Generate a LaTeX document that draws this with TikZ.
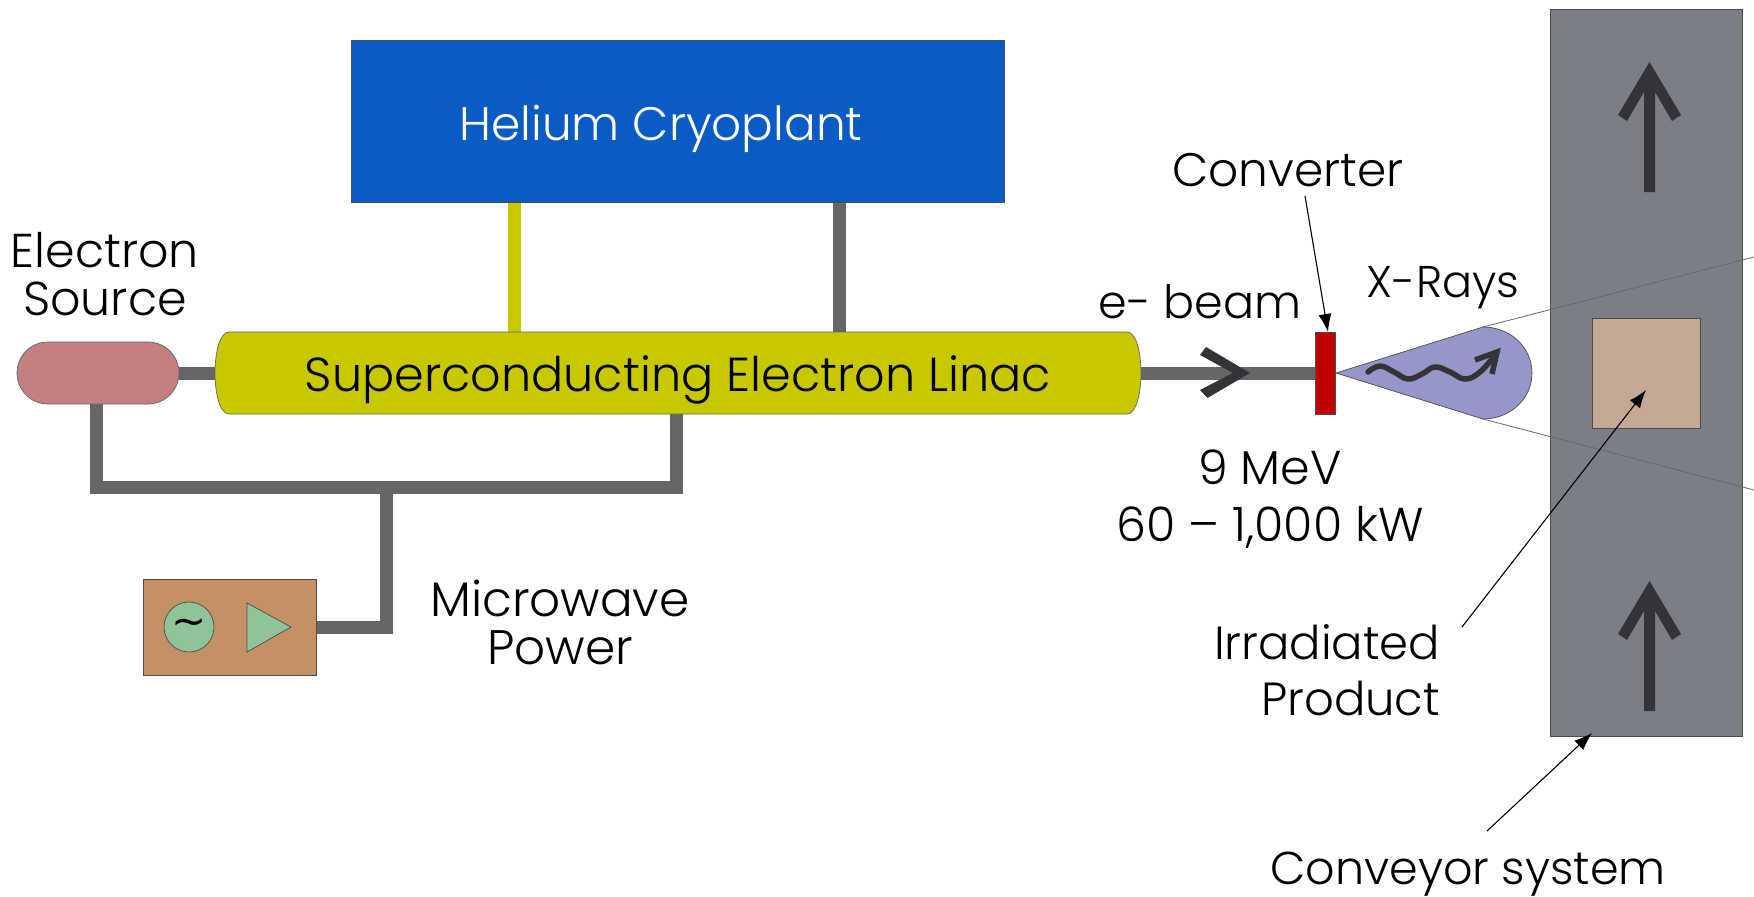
\documentclass[tikz,border=0pt]{standalone}
\usepackage{fontspec}
\setmainfont{Poppins Light}
\newfontfamily\tildefont{DejaVu Sans}
\usetikzlibrary{backgrounds,shapes.misc,arrows.meta}
\definecolor{cblue}{HTML}{0A5BC4}
\definecolor{clinac}{HTML}{C8C800}
\definecolor{csource}{HTML}{C47F82}
\definecolor{cmicro}{HTML}{C49068}
\definecolor{cgreen}{HTML}{8FC49A}
\definecolor{cpipe}{HTML}{666666}
\definecolor{ccone}{HTML}{9696C8}
\definecolor{cconv}{HTML}{7B7F85}
\definecolor{cprod}{HTML}{C4A994}
\definecolor{cred}{HTML}{C00000}
\definecolor{cdark}{HTML}{333338}
\tikzset{
  x=1pt,y=-1pt,
  lab/.style={inner sep=0pt,outer sep=0pt,font=\fontsize{47}{48}\selectfont,text=black},
  box/.style={rectangle,draw=black!70,line width=0.7pt,inner sep=0pt,outer sep=0pt},
  pipe/.style={draw=cpipe,line width=13pt,line cap=butt,line join=miter},
  yellowpipe/.style={draw=clinac,line width=13pt},
  thinarrow/.style={draw=black,line width=1.1pt,-{Latex[length=18pt,width=13pt]}},
  uparrow/.style={fill=cdark},
  conel/.style={draw=black!60,line width=0.8pt},
}
\newcommand{\uparrowshape}{(0,0) -- (31.5,53) -- (22.5,59) -- (5.5,30) -- (5.5,130) -- (-5.5,130) -- (-5.5,30) -- (-22.5,59) -- (-31.5,53) -- cycle}
\begin{document}
\begin{tikzpicture}
\useasboundingbox (0,0) rectangle (1754,897);
% boxes
\node[box,fill=cblue,minimum width=653.5pt,minimum height=162pt] (helium) at (677.75,121) {};
\node[inner sep=0pt,text=white,font=\fontsize{47}{48}\selectfont] (theli) at (661,129) {Helium Cryoplant};
\draw[draw=black!60,line width=0.7pt,fill=clinac] (229,332) .. controls (220,332) and (215,352) .. (215,373) .. controls (215,394) and (220,414) .. (229,414) -- (1127,414) .. controls (1136,414) and (1141,394) .. (1141,373) .. controls (1141,352) and (1136,332) .. (1127,332) -- cycle;
\node[rectangle,inner sep=0pt,outer sep=0pt,minimum width=926pt,minimum height=82pt] (linac) at (678,373) {};
\node[inner sep=0pt,font=\fontsize{47.7}{48}\selectfont] (tlinac) at (678,380) {Superconducting Electron Linac};
\node[rounded rectangle,rounded rectangle arc length=180,draw=black!60,line width=0.7pt,fill=csource,inner sep=0pt,outer sep=0pt,minimum width=162pt,minimum height=62pt] (source) at (98,373) {};
\node[box,fill=cmicro,minimum width=173pt,minimum height=96pt] (micro) at (229.5,627) {};
\node[circle,draw=black!70,line width=0.7pt,fill=cgreen,minimum size=50pt,inner sep=0pt] (osc) at (189,627) {\fontsize{42}{42}\tildefont\selectfont\textasciitilde};
\node[box,fill=cred,minimum width=20.5pt,minimum height=82pt] (conv) at (1325.25,373) {};
\node[box,fill=cconv,minimum width=192pt,minimum height=727pt] (belt) at (1646,372.5) {};
\node[box,fill=cprod,minimum width=108pt,minimum height=110pt] (prod) at (1646,373) {};
% coordinates
\coordinate (hy) at (514.5,202);
\coordinate (ly) at (514.5,332);
\coordinate (hg) at (839.5,202);
\coordinate (lg) at (839.5,332);
\coordinate (j1) at (96,487);
\coordinate (j2) at (676,487);
\coordinate (j3) at (386.5,487);
\coordinate (j4) at (386.5,627.5);
\coordinate (mo) at (316,627.5);
\coordinate (s1) at (96,400);
\coordinate (l1) at (676,412);
\begin{scope}[on background layer]
\draw[yellowpipe] (hy) -- (ly);
\draw[pipe] (hg) -- (lg);
\draw[pipe] (source.east) -- (linac.west);
\draw[pipe] (s1) -- (j1) -- (j2) -- (l1);
\draw[pipe] (j3) -- (j4) -- (mo);
\draw[pipe] (linac.east) -- (conv.west);
\end{scope}
% amplifier triangle
\draw[draw=black!70,line width=0.7pt,fill=cgreen] (247,603) -- (247,652) -- (291,627) -- cycle;
% chevron
\fill[cdark] (1200,355) -- (1206,347) -- (1250,373) -- (1207.5,398) -- (1200,390) -- (1233,373) -- cycle;
% X-ray cone
\draw[draw=black!70,line width=0.7pt,fill=ccone] (1336,373) -- (1483,327) .. controls (1510,327) and (1532,347) .. (1532,373) .. controls (1532,399) and (1510,419) .. (1483,419) -- cycle;
\coordinate (ct) at (1483,327);
\coordinate (cb) at (1483,419);
\coordinate (ot) at (1754,257);
\coordinate (ob) at (1754,490);
\draw[conel] (ct) -- (ot);
\draw[conel] (cb) -- (ob);
% wave
\draw[draw=cdark,line width=5.5pt,line cap=round] plot[smooth,tension=0.7] coordinates {(1368,372) (1380,366) (1394,372) (1408,379) (1422,374) (1435,367) (1450,372) (1465,379) (1480,372) (1495,355)};
\draw[draw=cdark,line width=5.5pt,line join=miter] (1475,360) -- (1497,352) -- (1492,374);
% conveyor arrows
\fill[uparrow,shift={(1649.5,62)}] \uparrowshape;
\fill[uparrow,shift={(1649.5,581)}] \uparrowshape;
% pointers
\coordinate (p1) at (1305,196);
\coordinate (p2) at (1328,332);
\coordinate (p3) at (1462,627);
\coordinate (p4) at (1646,390);
\coordinate (p5) at (1487,831);
\coordinate (p6) at (1592,733);
\draw[thinarrow] (p1) -- (p2);
\draw[thinarrow] (p3) -- (p4);
\draw[thinarrow] (p5) -- (p6);
% labels
\node[lab] (tconv) at (1288,170) {Converter};
\node[lab,align=center,font=\fontsize{47.5}{48}\selectfont] (tsrc) at (105,274) {Electron\\Source};
\node[lab,font=\fontsize{46}{48}\selectfont] (tbeam) at (1200,302) {e- beam};
\node[lab,font=\fontsize{44.5}{48}\selectfont] (txr) at (1443,288) {X-Rays};
\node[lab,align=center,font=\fontsize{47.5}{57}\selectfont] (tmev) at (1270,499) {9 MeV\\60 – 1,000 kW};
\node[lab,align=center,font=\fontsize{48.5}{48}\selectfont] (tmw) at (560,622) {Microwave\\Power};
\node[lab,align=right,anchor=east,font=\fontsize{46.5}{56}\selectfont] (tprod) at (1440,670) {Irradiated\\Product};
\node[lab,font=\fontsize{46}{48}\selectfont] (tcs) at (1468,874) {Conveyor system};
\end{tikzpicture}
\end{document}
